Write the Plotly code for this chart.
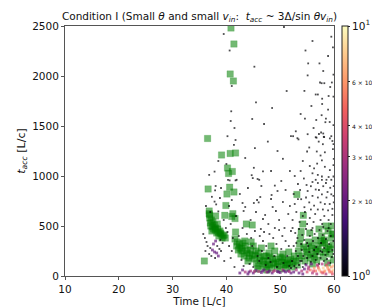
import numpy as np
import plotly.graph_objects as go

# ---------------- data ----------------
# green squares (time, t_acc)
green_x = [40.85, 41.4, 40.7, 41.3, 36.5, 39.1, 40.7, 41.7, 40.2, 41.1, 40.4, 36.6, 40.6, 40.1, 41.4,
           39.9, 53.1, 36.8, 36.8, 39.7, 41.2, 35.9, 43.7, 44.8, 41.7, 54.3, 53.9,
           36.9, 37.2, 37.0, 37.5, 37.8, 37.4, 38.0, 38.4, 38.8, 38.2, 39.0, 39.4, 38.6, 37.3, 39.8, 36.9, 38.0,
           41.0, 41.6, 37.6, 38.3, 38.9, 39.2, 37.1, 37.9, 39.6, 38.5,
           41.6, 42.0, 41.9, 42.4, 42.8, 42.2, 43.0, 43.5, 42.7, 43.3, 43.9, 44.2, 44.5, 44.0, 44.8, 45.2,
           43.4, 44.6, 45.0, 45.5, 42.5, 43.1, 43.8, 44.3, 45.3,
           45.6, 46.0, 46.3, 46.8, 47.2, 47.0, 47.6, 48.0, 48.4, 48.8, 49.2, 49.5, 49.9, 50.3, 50.7, 51.1,
           51.5, 51.8, 52.2, 52.6, 47.9, 49.0, 50.5, 51.6, 46.5, 48.3, 45.8, 47.5, 50.0, 52.9, 53.2,
           46.2, 46.9, 47.8, 48.6, 49.6, 50.4, 51.3, 52.0, 45.9, 47.4, 49.1, 50.8, 52.4, 48.1, 51.0,
           53.4, 53.6, 53.8, 54.0, 54.4, 54.6, 55.0, 55.3, 55.6, 55.9, 56.2, 56.5, 56.8, 57.1, 57.4, 57.7,
           58.0, 58.3, 58.6, 58.9, 59.2, 59.5, 59.8, 59.6, 58.5, 57.2, 55.5, 54.2, 59.9, 58.8, 56.0,
           58.2, 59.0, 59.7, 57.9, 56.9, 53.5, 54.8, 55.8, 56.6, 57.6, 58.4, 59.3, 59.9, 55.2, 56.4]
green_y = [2480, 2320, 2020, 1950, 1375, 1210, 1225, 1230, 1080, 1045, 1025, 870, 888, 820, 840,
           705, 815, 650, 623, 607, 623, 150, 520, 510, 440, 607, 445,
           580, 560, 530, 540, 510, 490, 480, 470, 450, 430, 420, 400, 400, 450, 380, 610, 600,
           595, 575, 470, 520, 430, 380, 500, 460, 410, 440,
           370, 340, 300, 320, 280, 260, 250, 300, 220, 200, 230, 180, 260, 150, 200, 170,
           350, 340, 300, 250, 280, 330, 260, 220, 210,
           130, 100, 160, 120, 90, 200, 150, 110, 80, 130, 170, 100, 70, 140, 110, 80,
           160, 120, 90, 200, 230, 250, 220, 240, 280, 300, 70, 60, 190, 150, 110,
           190, 150, 120, 170, 140, 180, 130, 170, 230, 200, 120, 160, 140, 190, 110,
           250, 320, 380, 200, 290, 150, 240, 340, 180, 280, 220, 360, 160, 300, 240, 400,
           190, 330, 270, 450, 220, 380, 310, 500, 500, 470, 430, 520, 160, 130, 120,
           360, 290, 420, 330, 270, 180, 270, 300, 250, 350, 240, 270, 420, 210, 190]

# histogram cells (time, t_acc, count)
dot_x = [
    # upper, left column
    40.6, 40.9, 40.8, 40.2, 41.7, 41.4, 37.8, 36.8, 40.3, 41.9, 39.5, 41.0, 38.5, 40.0, 41.5,
    # upper, middle
    45.2, 45.5, 44.8, 47.7, 45.3, 50.5, 45.1, 48.3, 46.1, 44.9, 50.7, 52.9, 52.4, 49.0, 46.8,
    44.7, 45.8, 51.8, 52.7, 53.4, 52.0, 43.5, 47.0, 49.5, 51.2, 48.5,
    # upper, right
    59.5, 59.8, 54.7, 55.2, 57.3, 55.1, 59.9, 57.7, 57.4, 58.2, 59.6, 59.3, 54.5, 56.6, 57.0,
    57.8, 59.9, 57.8, 58.9, 57.7, 58.5, 59.2, 54.6, 56.7, 59.9, 58.4, 57.6, 58.0, 57.2, 55.1,
    56.6, 58.1, 59.5, 53.2, 56.75, 57.16, 57.93, 58.17, 59.23, 59.7, 59.9, 59.8, 58.3, 57.5, 57.75,
    56.87, 58.3, 59.23, 59.95, 59.9, 56.3, 56.0, 56.99, 57.75, 58.6, 59.5, 59.9, 55.4, 55.0, 56.8,
    54.2, 55.5, 53.8, 54.4, 53.3, 58.9, 56.0, 58.0, 55.8, 59.0, 53.8, 56.2,
    # middle, left
    37.9, 37.3, 37.8, 38.1, 38.5, 37.0, 40.6, 41.7, 39.0, 38.0, 41.0, 40.5, 39.5, 36.2, 41.8,
    38.8, 40.8,
    # middle, centre
    43.0, 43.5, 45.1, 45.7, 46.3, 46.0, 43.2, 48.3, 48.6, 49.2, 48.4, 44.0, 46.5, 47.2, 44.5,
    49.8, 50.5, 51.0, 51.5, 50.2, 47.8, 45.5, 42.5, 51.8, 49.5, 46.8,
    # middle, right
    55.1, 55.7, 56.6, 56.0, 57.0, 57.75, 58.6, 59.5, 59.9, 57.5, 58.3, 59.2, 59.95, 55.4, 56.3,
    53.9, 54.5, 54.8, 53.3, 52.7, 55.7, 56.99, 57.93, 58.9, 59.7, 58.0, 59.3, 59.95, 57.0, 58.5,
    57.75, 56.6, 54.9, 53.7, 52.5, 53.0, 54.2, 55.5, 56.5, 57.5, 58.2, 59.0, 59.7, 55.0, 56.2,
    57.8, 59.4, 52.3, 53.6, 54.6, 58.8, 57.2, 56.0, 59.0,
    # lower, left strokes
    35.7, 36.0, 36.3, 36.5, 37.0, 37.4, 37.8, 38.2, 37.6, 38.0, 38.3, 38.7, 39.0, 38.5, 37.9,
    37.2, 36.8, 39.3, 38.9, 36.1, 40.5, 41.0, 40.8, 39.6, 41.5, 40.2, 39.9, 41.2,
    # lower, centre bottom line
    42.5, 43.0, 43.5, 44.0, 44.5, 45.0, 45.5, 46.0, 46.5, 47.0, 47.5, 48.0, 48.5, 49.0, 49.5,
    50.0, 50.5, 51.0, 51.5, 52.0, 44.2, 45.2, 46.7, 47.7, 48.7, 49.7, 50.7, 51.7,
    # lower, centre scattered
    42.3, 43.8, 44.6, 45.3, 46.2, 46.8, 47.4, 48.0, 48.7, 49.3, 49.8, 50.4, 51.0, 51.6, 52.0,
    45.8, 46.6, 47.8, 48.9, 50.2, 51.3, 44.3, 45.0, 46.1, 47.3, 48.2, 49.4, 50.6, 51.7, 42.8,
    43.2, 44.8, 46.4, 50.8, 49.0, 47.0, 43.0,
    # lower, right
    52.3, 52.8, 53.2, 53.5, 53.9, 54.1, 54.5, 54.8, 55.2, 55.5, 55.8, 56.1, 56.4, 56.7, 57.0,
    57.3, 57.6, 57.9, 58.2, 58.5, 58.8, 59.1, 59.4, 59.7, 59.9, 52.5, 52.9, 53.3, 53.7, 54.0,
    54.3, 54.7, 55.0, 55.4, 55.7, 56.0, 56.3, 56.6, 56.9, 57.2, 57.5, 57.8, 58.1, 58.4, 58.7,
    59.0, 59.3, 59.6, 59.9, 52.2, 52.6, 53.0, 53.5, 54.2, 58.0, 59.0, 56.0, 57.5, 55.0, 53.0,
    54.0,
    # bottom right, high counts
    52.5, 53.0, 53.5, 54.0, 54.5, 55.0, 55.3, 55.6, 56.0, 56.3, 56.6, 57.0, 57.3, 57.6, 58.0,
    58.3, 58.6, 58.9, 59.2, 59.5, 59.8, 57.8, 59.0, 56.8, 55.8, 54.8, 59.7, 58.5, 52.0, 54.2,
    55.2, 56.2, 57.1, 58.1, 59.1, 59.9, 56.9, 57.9, 58.8, 59.6,
]
dot_y = [
    2255, 1647, 1550, 1398, 1360, 1311, 1044, 1011, 962, 962, 2420, 1900, 1150, 1120, 1480,
    2093, 1737, 1570, 1344, 1279, 1172, 1082, 1050, 962, 979, 2490, 1447, 1398, 904, 1047,
    1008, 970, 1050, 1000, 1366, 1398, 1180, 1520, 1250, 1850, 1680,
    2393, 2287, 2255, 2126, 2126, 2006, 2013, 1928, 1935, 1928, 1935, 1890, 1851, 1815, 1815,
    1773, 1793, 1720, 1664, 1608, 1573, 1540, 1573, 1560, 1509, 1538, 1435, 1425, 1420, 1418,
    1388, 1392, 1398, 1378, 1383, 1344, 1318, 1389, 1376, 1350, 1318, 1269, 1237, 1205, 1156,
    1124, 1092, 1059, 1172, 1108, 1076, 1027, 1011, 995, 962, 962, 995, 1285, 1245, 1245,
    1150, 1100, 1050, 975, 920, 2200, 2350, 2050, 1700, 1800, 1620, 1480,
    856, 792, 744, 716, 646, 640, 956, 956, 880, 900, 760, 700, 560, 700, 600,
    780, 520,
    730, 690, 730, 760, 790, 736, 650, 770, 690, 650, 810, 880, 900, 610, 560,
    560, 740, 860, 620, 950, 520, 640, 820, 700, 850, 570,
    850, 898, 865, 801, 785, 817, 785, 817, 801, 736, 720, 720, 736, 736, 704,
    768, 688, 785, 768, 720, 665, 665, 665, 656, 672, 898, 882, 898, 930, 930,
    962, 962, 910, 860, 820, 640, 600, 580, 620, 560, 600, 560, 610, 520, 540,
    520, 520, 560, 540, 640, 840, 860, 940, 990,
    420, 380, 340, 300, 280, 260, 240, 230, 320, 350, 300, 270, 250, 200, 180,
    200, 220, 330, 360, 250, 300, 250, 180, 150, 90, 440, 480, 380,
    30, 60, 40, 20, 50, 30, 55, 45, 35, 60, 40, 50, 30, 55, 45,
    35, 60, 40, 50, 30, 40, 45, 50, 40, 45, 40, 50, 45,
    400, 420, 380, 450, 400, 350, 300, 420, 380, 320, 460, 400, 350, 300, 450,
    200, 250, 180, 200, 270, 200, 120, 90, 150, 110, 140, 90, 130, 100, 160,
    100, 300, 470, 480, 480, 440, 480,
    480, 430, 380, 470, 320, 410, 360, 470, 300, 400, 460, 350, 420, 290, 380,
    460, 330, 410, 280, 370, 450, 320, 400, 260, 350, 300, 250, 200, 150, 260,
    200, 120, 180, 240, 140, 200, 260, 160, 220, 120, 180, 240, 150, 210, 170,
    240, 130, 190, 220, 150, 100, 80, 110, 90, 490, 480, 480, 250, 330, 330,
    150,
    40, 60, 30, 50, 70, 40, 90, 60, 30, 80, 50, 100, 60, 40, 80,
    50, 110, 70, 40, 90, 60, 120, 130, 20, 120, 110, 20, 20, 80, 20,
    70, 50, 80, 40, 60, 100, 110, 30, 90, 40,
]
dot_n = (
    [1] * 15 + [1] * 26 + [1] * 72
    + [1] * 17 + [1] * 26 + [1] * 54
    + [1, 1, 1, 1, 1, 2, 2, 2, 2, 2, 1, 1, 1, 2, 1, 1, 1, 1, 1, 1, 1, 1, 1, 1, 1, 1, 1, 1]
    + [2, 2, 3, 2, 3, 2, 2, 3, 2, 2, 3, 2, 2, 3, 2, 2, 3, 2, 2, 2, 2, 3, 2, 2, 3, 2, 2, 3]
    + [1] * 37
    + [1] * 61
    + [2, 3, 2, 3, 2, 4, 3, 5, 3, 6, 5, 4, 7, 5, 8, 6, 4, 7, 5, 6, 8, 3, 3, 3, 2, 2, 4, 3, 1, 2]
    + [3, 4, 5, 6, 5, 7, 3, 4, 6, 5]
)

# colorbar ticks
cb_vals = [1, 2, 3, 4, 6, 10]
cb_text = ["10<sup>0</sup>",
           "<span style='font-size:6px'>2 × 10⁰</span>",
           "<span style='font-size:6px'>3 × 10⁰</span>",
           "<span style='font-size:6px'>4 × 10⁰</span>",
           "<span style='font-size:6px'>6 × 10⁰</span>",
           "10<sup>1</sup>"]

x_ticks = [10, 20, 30, 40, 50, 60]
y_ticks = [0, 500, 1000, 1500, 2000, 2500]

# ---------------- figure ----------------
FONT = "DejaVu Sans"
fig = go.Figure()

fig.add_trace(go.Scatter(
    x=green_x, y=green_y, mode="markers",
    marker=dict(symbol="square", size=6.5, color="rgba(0,128,0,0.55)",
                line=dict(width=0.6, color="rgba(0,128,0,0.25)")),
    showlegend=False, hoverinfo="skip",
))

dot_size = [1.8 if n == 1 else 2.8 for n in dot_n]
fig.add_trace(go.Scatter(
    x=dot_x, y=dot_y, mode="markers",
    marker=dict(symbol="square", size=dot_size,
                color=np.log10(np.array(dot_n, dtype=float)),
                colorscale="Magma", cmin=0, cmax=1, showscale=True,
                line=dict(width=0),
                colorbar=dict(
                    x=1.028, xanchor="left", xpad=0, y=0.5, yanchor="middle",
                    len=1.0, lenmode="fraction", thickness=6, ypad=0,
                    outlinewidth=1, outlinecolor="#222",
                    tickmode="array", tickvals=list(np.log10(cb_vals)), ticktext=cb_text,
                    ticks="outside", ticklen=2, tickcolor="#222",
                    tickfont=dict(family=FONT, size=10.5, color="#111"),
                )),
    showlegend=False, hoverinfo="skip",
))

title_txt = ("Condition I (Small <i>θ</i> and small <i>v</i><sub><i>in</i></sub>:  "
             "<i>t</i><sub><i>acc</i></sub> ~ 3Δ/sin <i>θv</i><sub><i>in</i></sub>)")

fig.update_layout(
    width=380, height=307,
    margin=dict(l=49, r=47, t=17, b=31),
    paper_bgcolor="white", plot_bgcolor="white",
    font=dict(family=FONT, size=10.5, color="#111"),
    title=dict(text=title_txt, x=0.5, xref="paper", xanchor="center",
               y=1, yref="paper", yanchor="bottom", pad=dict(b=6),
               font=dict(family=FONT, size=10.5, color="#111")),
)
fig.update_xaxes(
    range=[10, 60], tickmode="array", tickvals=x_ticks,
    showgrid=False, zeroline=False, showline=True, mirror=True,
    linecolor="#555", linewidth=1, ticks="outside", ticklen=3, tickcolor="#555",
    tickfont=dict(family=FONT, size=10.5),
    title=dict(text="Time [L/c]", font=dict(family=FONT, size=10.5), standoff=1),
)
fig.update_yaxes(
    range=[0, 2500], tickmode="array", tickvals=y_ticks,
    showgrid=False, zeroline=False, showline=True, mirror=True,
    linecolor="#555", linewidth=1, ticks="outside", ticklen=3, tickcolor="#555",
    tickfont=dict(family=FONT, size=10.5),
    title=dict(text="<i>t</i><sub><i>acc</i></sub> [L/c]", font=dict(family=FONT, size=11), standoff=4),
)

fig.write_html("out.html")
